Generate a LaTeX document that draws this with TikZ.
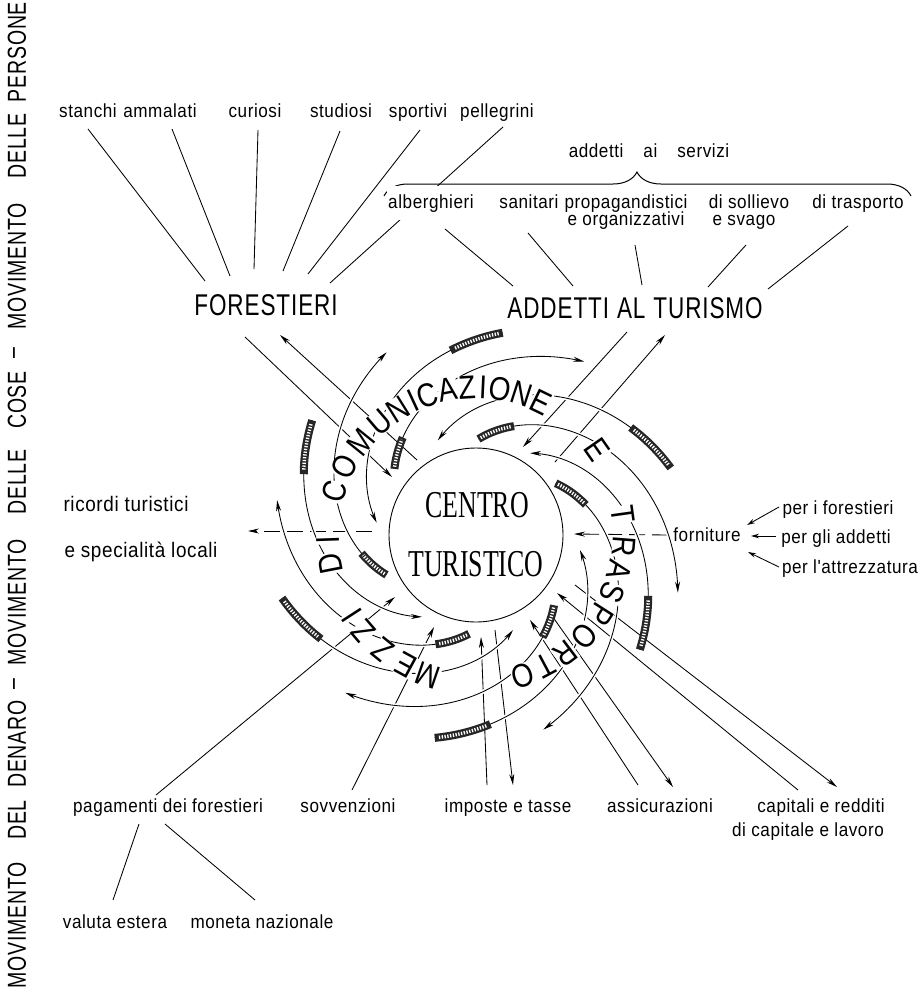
\documentclass[tikz,border=0pt]{standalone}
\usepackage{fontspec}
\setmainfont{Liberation Sans}
\newfontfamily\labf{Liberation Sans}[FakeStretch=0.9,LetterSpace=3]
\newfontfamily\capf{Liberation Sans}[FakeStretch=0.75,LetterSpace=3]
\newfontfamily\ringf{Liberation Sans}[FakeStretch=0.85]
\newfontfamily\cenf{Liberation Serif}[FakeStretch=0.68]
\usetikzlibrary{arrows.meta,decorations.pathreplacing,backgrounds}
\begin{document}
\begin{tikzpicture}[x=1pt,y=-1pt,
  conn/.style={line width=0.85pt},
  tip/.style={-{Stealth[length=11pt,width=5pt]}},
  arr/.style={conn,tip},
  sarr/.style={conn,-{Stealth[length=8pt,width=4.5pt]}},
  dsh/.style={conn,tip,dash pattern=on 16pt off 7pt},
  lbl/.style={font=\labf\fontsize{19}{22}\selectfont,inner sep=1pt,anchor=base},
  capl/.style={font=\capf\fontsize{30}{30}\selectfont,inner sep=1pt,anchor=base},
  side/.style={font=\capf\fontsize{26}{26}\selectfont,rotate=90,inner sep=0pt},
  ringl/.style={font=\ringf\fontsize{33}{33}\selectfont,fill=white,inner sep=0.3pt},
  cen/.style={font=\cenf\fontsize{38}{38}\selectfont,inner sep=0pt,anchor=base},
]
\useasboundingbox (0,0) rectangle (921,1001);

\begin{scope}[on background layer]
\fill[white] (0,0) rectangle (921,1001);
% connectors from the kinds of visitors to FORESTIERI
\coordinate (tS) at (88,129);  \coordinate (fS) at (205,281);
\coordinate (tA) at (172,129); \coordinate (fA) at (230,276);
\coordinate (tC) at (258,130); \coordinate (fC) at (254,269);
\coordinate (tD) at (340,131); \coordinate (fD) at (283,271);
\coordinate (tP) at (420,130); \coordinate (fP) at (308,274);
\coordinate (tG) at (503,127); \coordinate (fG) at (330,283);
\draw[conn] (tS)--(fS) (tA)--(fA) (tC)--(fC) (tD)--(fD) (tP)--(fP) (tG)--(fG);
% connectors from the service staff to ADDETTI AL TURISMO
\coordinate (sA) at (445,229); \coordinate (aA) at (513,286);
\coordinate (sB) at (528,233); \coordinate (aB) at (573,286);
\coordinate (sC) at (635,245); \coordinate (aC) at (642,285);
\coordinate (sD) at (746,245); \coordinate (aD) at (708,287);
\coordinate (sE) at (848,226); \coordinate (aE) at (768,289);
\draw[conn] (sA)--(aA) (sB)--(aB) (sC)--(aC) (sD)--(aD) (sE)--(aE);
% radial flows
\coordinate (fin0) at (245,337);  \coordinate (fin1) at (392,477);
\coordinate (fout0) at (417,460); \coordinate (fout1) at (280,335);
\coordinate (ain0) at (627,332);  \coordinate (ain1) at (523,447);
\coordinate (aout0) at (555,462); \coordinate (aout1) at (665,335);
\coordinate (ric0) at (372,531);  \coordinate (ric1) at (248,531);
\coordinate (forn0) at (668,535); \coordinate (forn1) at (574,534);
\coordinate (pag0) at (156,795);  \coordinate (pag1) at (395,597);
\coordinate (sov0) at (352,790);  \coordinate (sov1) at (434,627);
\coordinate (imp0) at (487,785);  \coordinate (imp1) at (481,637);
\coordinate (impo0) at (495,630); \coordinate (impo1) at (513,785);
\coordinate (ass0) at (638,785);  \coordinate (ass1) at (530,620);
\coordinate (asso0) at (550,613); \coordinate (asso1) at (673,787);
\coordinate (cap0) at (798,790);  \coordinate (cap1) at (557,593);
\coordinate (capo0) at (575,585); \coordinate (capo1) at (837,787);
\draw[arr] (fin0)--(fin1);
\draw[arr] (fout0)--(fout1);
\draw[arr] (ain0)--(ain1);
\draw[arr] (aout0)--(aout1);
\draw[dsh] (ric0)--(ric1);
\draw[dsh] (forn0)--(forn1);
\draw[arr] (pag0)--(pag1);
\draw[arr] (sov0)--(sov1);
\draw[arr] (imp0)--(imp1);
\draw[arr] (impo0)--(impo1);
\draw[arr] (ass0)--(ass1);
\draw[arr] (asso0)--(asso1);
\draw[arr] (cap0)--(cap1);
\draw[arr] (capo0)--(capo1);
% supplies into forniture
\coordinate (pf0) at (779,507); \coordinate (pf1) at (747,525);
\coordinate (pa0) at (776,536); \coordinate (pa1) at (751,536);
\coordinate (pt0) at (779,567); \coordinate (pt1) at (748,552);
\draw[sarr] (pf0)--(pf1);
\draw[sarr] (pa0)--(pa1);
\draw[sarr] (pt0)--(pt1);
% payments split
\coordinate (pv0) at (139,824); \coordinate (pv1) at (113,900);
\coordinate (pm0) at (165,824); \coordinate (pm1) at (255,900);
\draw[conn] (pv0)--(pv1) (pm0)--(pm1);
% spiral arms of the means of transport
\begin{scope}[shift={(476,535)}]
\foreach \pa/\ra/\pb/\rb in {277.5/204/187/100, 215/200/123.4/98, 341/206/248/102,
   162/204/68.7/102, 35/200/-56.6/98, 101.5/207/8.2/105,
   271.5/96/376/210, 327/95/431/206, 156/98/244/203.5,
   94/99/190/202, 42/105/129.7/205, 219/105/302/204.5}{
  \draw[white,line width=4pt] plot[variable=\u,domain=0:1,samples=60]
     ({\pa+(\pb-\pa)*\u}:{\ra+(\rb-\ra)*\u});
  \draw[conn,tip] plot[variable=\u,domain=0:1,samples=60]
     ({\pa+(\pb-\pa)*\u}:{\ra+(\rb-\ra)*\u});
  \draw[line width=8pt,black!85] plot[variable=\u,domain=0:0.17,samples=12]
     ({\pa+(\pb-\pa)*\u}:{\ra+(\rb-\ra)*\u});
  \draw[white,line width=3.4pt,dash pattern=on 1.3pt off 1.5pt] plot[variable=\u,domain=0.012:0.158,samples=12]
     ({\pa+(\pb-\pa)*\u}:{\ra+(\rb-\ra)*\u});
}
\end{scope}
\end{scope}

% left column
\node[side] (s1) at (17,925) {MOVIMENTO};
\node[side] (s2) at (17,820) {DEL};
\node[side] (s3) at (17,744) {DENARO};
\node[side] (s4) at (17,684) {–};
\node[side] (s5) at (17,602) {MOVIMENTO};
\node[side] (s6) at (17,482) {DELLE};
\node[side] (s7) at (17,400) {COSE};
\node[side] (s8) at (17,353) {–};
\node[side] (s9) at (17,266) {MOVIMENTO};
\node[side] (s10) at (17,146) {DELLE};
\node[side] (s11) at (17,52) {PERSONE};

% top labels
\node[lbl] (stanchi) at (88,117) {stanchi};
\node[lbl] (ammalati) at (160,117) {ammalati};
\node[lbl] (curiosi) at (255,117) {curiosi};
\node[lbl] (studiosi) at (341,117) {studiosi};
\node[lbl] (sportivi) at (418,117) {sportivi};
\node[lbl] (pellegrini) at (497,117) {pellegrini};

% service staff block
\node[lbl] (servizi) at (649,157) {addetti\hspace{20pt}ai\hspace{20pt}servizi};
\draw[decorate,decoration={brace,amplitude=24pt,aspect=0.48},line width=1pt] (384,196) -- (911,196);
\node[lbl,fill=white,inner ysep=8pt] (alberghieri) at (431,208) {alberghieri};
\node[lbl] (sanitari) at (529,208) {sanitari};
\node[lbl] (propag) at (626,208) {propagandistici};
\node[lbl] (organ) at (626,225) {e organizzativi};
\node[lbl] (sollievo) at (749,208) {di sollievo};
\node[lbl] (svago) at (744,225) {e svago};
\node[lbl] (trasp) at (858,208) {di trasporto};

\node[capl] (forestieri) at (266,315) {FORESTIERI};
\node[capl] (addetti) at (635,318) {ADDETTI\hspace{8pt}AL\hspace{8pt}TURISMO};

\node[lbl,font=\labf\fontsize{21}{24}\selectfont] (ricordi) at (126,511) {ricordi turistici};
\node[lbl,font=\labf\fontsize{21}{24}\selectfont] (special) at (141,557) {e specialità locali};

\node[lbl,fill=white] (forniture) at (707,541) {forniture};
\node[lbl] (perfor) at (838,514) {per i forestieri};
\node[lbl] (peradd) at (836,543) {per gli addetti};
\node[lbl] (peratt) at (850,573) {per l'attrezzatura};

\node[lbl] (pagam) at (168,812) {pagamenti dei forestieri};
\node[lbl] (sovv) at (348,812) {sovvenzioni};
\node[lbl] (impos) at (508,812) {imposte e tasse};
\node[lbl] (assic) at (660,812) {assicurazioni};
\node[lbl] (capit) at (821,812) {capitali e redditi};
\node[lbl] (dicap) at (808,836) {di capitale e lavoro};
\node[lbl] (valuta) at (115,928) {valuta estera};
\node[lbl] (moneta) at (262,928) {moneta nazionale};

% ring text
\begin{scope}[shift={(476,535)}]
\foreach \ch/\ang in {M/109, E/118.5, Z/129, Z/139.5, I/147,
   D/169, I/178,
   C/197, O/207.5, M/219, U/229.5, N/238, I/245, C/251, A/259, Z/266.5, I/272.7, O/279.5, N/288, E/296,
   E/325,
   T/352, R/364.5, A/374, S/383, P/392.5, O/403, R/413, T/422, O/431.5}{
  \node[ringl,rotate={270-\ang}] at (\ang:148) {\ch};
}
\end{scope}

% centre
\node[circle,draw,line width=0.9pt,fill=white,minimum size=174pt,inner sep=0pt] (centro) at (476,535) {};
\node[cen] (c1) at (477,517) {CENTRO};
\node[cen] (c2) at (476,576) {TURISTICO};
\end{tikzpicture}
\end{document}
